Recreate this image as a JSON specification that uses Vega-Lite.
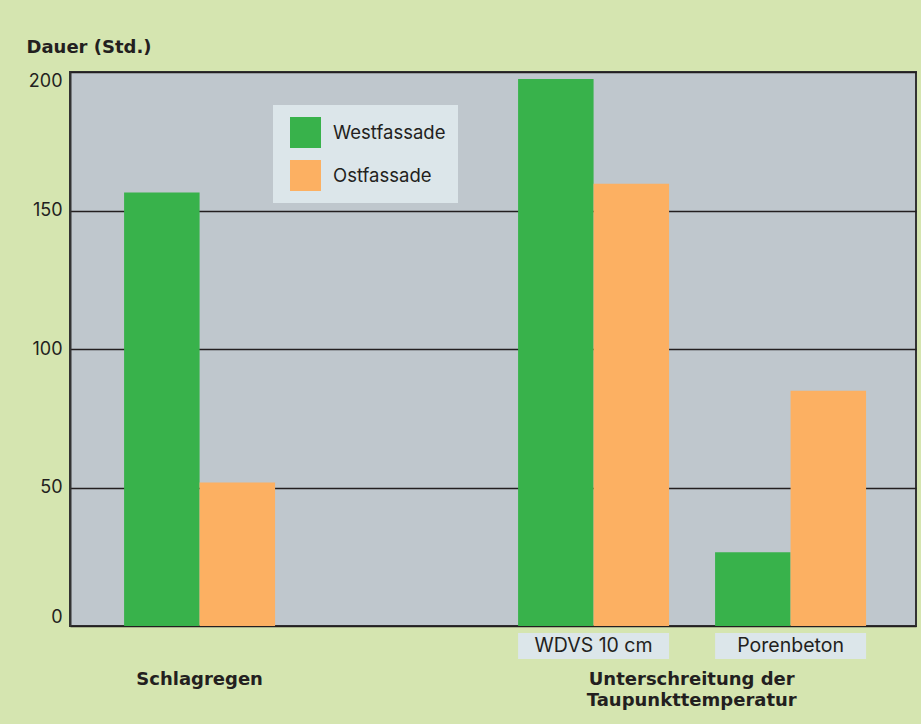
{
  "$schema": "https://vega.github.io/schema/vega-lite/v6.json",
  "width": 846,
  "height": 554,
  "autosize": {"type": "none"},
  "padding": {"left": 70, "top": 72, "right": 5, "bottom": 98},
  "background": "#d5e5b0",
  "config": {
    "view": {"fill": "#bfc7cd", "stroke": "#333333", "strokeWidth": 2},
    "font": "Inter"
  },
  "datasets": {
    "werte": [
      {"kategorie": "Schlagregen", "serie": "Westfassade", "dauer": 156.5},
      {"kategorie": "Schlagregen", "serie": "Ostfassade", "dauer": 51.8},
      {"kategorie": "WDVS 10 cm", "serie": "Westfassade", "dauer": 197.5},
      {"kategorie": "WDVS 10 cm", "serie": "Ostfassade", "dauer": 159.7},
      {"kategorie": "Porenbeton", "serie": "Westfassade", "dauer": 26.6},
      {"kategorie": "Porenbeton", "serie": "Ostfassade", "dauer": 84.9}
    ],
    "kasten": [
      {"kategorie": "WDVS 10 cm"},
      {"kategorie": "Porenbeton"}
    ],
    "gruppe1": [
      {"kategorie": "Schlagregen", "label": ["Schlagregen"]}
    ],
    "gruppe2": [
      {"kategorie": "WDVS 10 cm", "label": ["Unterschreitung der", "Taupunkttemperatur"]}
    ]
  },
  "layer": [
    {
      "data": {"name": "werte"},
      "mark": {"type": "bar"},
      "encoding": {
        "x": {
          "field": "kategorie",
          "type": "nominal",
          "scale": {
            "domain": ["Schlagregen", " ", "WDVS 10 cm", "Porenbeton"],
            "paddingInner": 0.2335,
            "paddingOuter": 0.264,
            "align": 0.52
          },
          "axis": null
        },
        "xOffset": {
          "field": "serie",
          "type": "nominal",
          "scale": {"domain": ["Westfassade", "Ostfassade"], "paddingInner": 0, "paddingOuter": 0}
        },
        "y": {
          "field": "dauer",
          "type": "quantitative",
          "scale": {"domain": [0, 200], "nice": false, "zero": true},
          "axis": {
            "title": "Dauer (Std.)",
            "values": [0, 50, 100, 150, 200],
            "grid": true,
            "gridColor": "#231f20",
            "gridWidth": 1.5,
            "domainColor": "#333333",
            "domainWidth": 2,
            "ticks": false,
            "tickSize": 0,
            "labelPadding": 8,
            "labelFontSize": 18,
            "labelFont": "Inter",
            "labelColor": "#231f20",
            "labelFlush": true,
            "titleAngle": 0,
            "titleFont": "DejaVu Sans",
            "titleFontWeight": "bold",
            "titleFontSize": 18,
            "titleColor": "#231f20",
            "titleAlign": "left",
            "titleBaseline": "middle",
            "titleX": -44,
            "titleY": -25
          }
        },
        "color": {
          "field": "serie",
          "type": "nominal",
          "scale": {"domain": ["Westfassade", "Ostfassade"], "range": ["#38b24b", "#fcb062"]},
          "legend": {
            "title": null,
            "orient": "none",
            "legendX": 203,
            "legendY": 33,
            "fillColor": "#dce6ea",
            "padding": 12,
            "symbolType": "square",
            "symbolSize": 961,
            "symbolStrokeWidth": 0,
            "symbolOffset": 5,
            "symbolOpacity": 1,
            "labelFontSize": 18.5,
            "labelFont": "Inter",
            "labelColor": "#231f20",
            "labelOffset": 12,
            "rowPadding": 12
          }
        }
      }
    },
    {
      "data": {"name": "kasten"},
      "mark": {"type": "bar", "fill": "#dce6ea"},
      "encoding": {
        "x": {"field": "kategorie", "type": "nominal", "axis": null},
        "y": {"datum": -2.5, "type": "quantitative"},
        "y2": {"datum": -11.9}
      }
    },
    {
      "data": {"name": "kasten"},
      "mark": {"type": "text", "fontSize": 19.5, "font": "Inter", "color": "#231f20", "baseline": "middle"},
      "encoding": {
        "x": {"field": "kategorie", "type": "nominal", "axis": null},
        "y": {"datum": -7.2, "type": "quantitative"},
        "text": {"field": "kategorie"}
      }
    },
    {
      "data": {"name": "gruppe1"},
      "mark": {"type": "text", "fontSize": 18, "font": "DejaVu Sans", "fontWeight": "bold", "color": "#231f20", "baseline": "top", "lineHeight": 21},
      "encoding": {
        "x": {"field": "kategorie", "type": "nominal", "axis": null},
        "y": {"datum": -16.2, "type": "quantitative"},
        "text": {"field": "label"}
      }
    },
    {
      "data": {"name": "gruppe2"},
      "mark": {"type": "text", "fontSize": 18, "font": "DejaVu Sans", "fontWeight": "bold", "color": "#231f20", "baseline": "top", "lineHeight": 21},
      "encoding": {
        "x": {"field": "kategorie", "type": "nominal", "axis": null, "bandPosition": 1.15},
        "y": {"datum": -16.2, "type": "quantitative"},
        "text": {"field": "label"}
      }
    }
  ]
}
